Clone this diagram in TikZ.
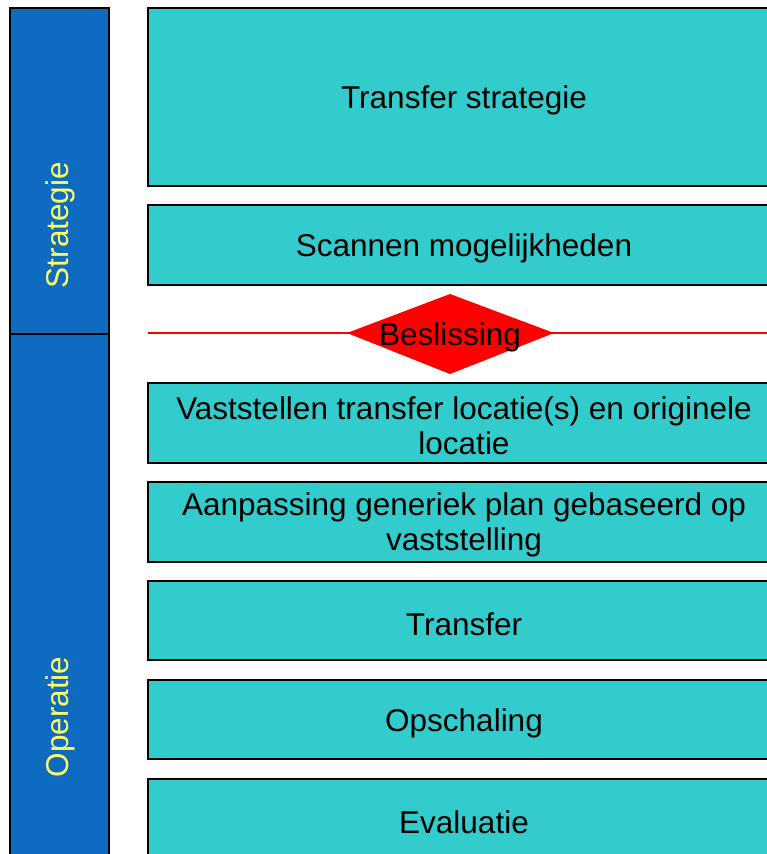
\documentclass[tikz,border=0pt]{standalone}
\usepackage{fontspec}
\setmainfont{Liberation Sans}
\definecolor{stepteal}{RGB}{51,204,204}
\definecolor{barblue}{RGB}{15,107,192}
\definecolor{labelyellow}{RGB}{255,255,102}
\begin{document}
\begin{tikzpicture}[x=1pt,y=-1pt,
  boxtext/.style={font=\fontsize{31.5}{35}\selectfont, align=center, inner sep=0pt},
  sidetext/.style={font=\fontsize{31.5}{35}\selectfont, text=labelyellow, rotate=90, inner sep=0pt}]
\def\xl{10};
\def\xm{109};
\def\xa{148};
\def\xr{790};
\def\xc{464};

\useasboundingbox (0,0) rectangle (767,854);
\clip (0,0) rectangle (767,854);

% linker balk
\filldraw[fill=barblue, draw=black, line width=1.5pt] (\xl, 8) rectangle (\xm, 334);
\filldraw[fill=barblue, draw=black, line width=1.5pt] (\xl, 334) rectangle (\xm, 870);
\node[sidetext] (strategie) at (60, 225) {Strategie};
\node[sidetext] (operatie) at (60, 717) {Operatie};

% stappen
\filldraw[fill=stepteal, draw=black, line width=1.8pt] (\xa, 8) rectangle (\xr, 186);
\filldraw[fill=stepteal, draw=black, line width=1.8pt] (\xa, 205) rectangle (\xr, 285);
\filldraw[fill=stepteal, draw=black, line width=1.8pt] (\xa, 383) rectangle (\xr, 463);
\filldraw[fill=stepteal, draw=black, line width=1.8pt] (\xa, 482) rectangle (\xr, 562);
\filldraw[fill=stepteal, draw=black, line width=1.8pt] (\xa, 581) rectangle (\xr, 660);
\filldraw[fill=stepteal, draw=black, line width=1.8pt] (\xa, 680) rectangle (\xr, 759);
\filldraw[fill=stepteal, draw=black, line width=1.8pt] (\xa, 779) rectangle (\xr, 870);

\node[boxtext] (transfer) at (\xc, 100) {Transfer strategie};
\node[boxtext] (scannen) at (\xc, 248) {Scannen mogelijkheden};
\node[boxtext] (vaststellen) at (\xc, 426) {Vaststellen transfer locatie(s) en originele\\locatie};
\node[boxtext] (aanpassing) at (\xc, 525) {Aanpassing generiek plan gebaseerd op\\vaststelling};
\node[boxtext] (transfer2) at (\xc, 624) {Transfer};
\node[boxtext] (opschaling) at (\xc, 723) {Opschaling};
\node[boxtext] (evaluatie) at (\xc, 822) {Evaluatie};

% beslissing
\draw[red, line width=1.5pt] (\xa, 333) -- (\xr, 333);
\fill[red] (347, 333) -- (450, 294) -- (554, 333) -- (450, 374) -- cycle;
\node[boxtext] (beslissing) at (450, 337) {Beslissing};

\end{tikzpicture}
\end{document}
